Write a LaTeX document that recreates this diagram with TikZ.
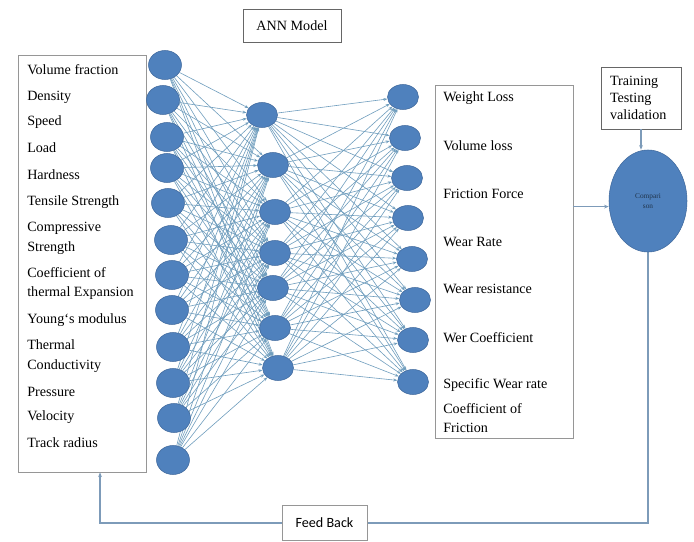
\documentclass[tikz,border=0pt]{standalone}
\usepackage{fontspec}
\setmainfont{Liberation Serif}
\newfontfamily\fbfont{Carlito}
\usetikzlibrary{shapes.geometric,arrows.meta,fit,calc}
\pgfdeclarelayer{bg}
\pgfsetlayers{bg,main}
\definecolor{neuron}{RGB}{79,129,189}
\definecolor{neuronedge}{RGB}{62,104,156}
\definecolor{wirecol}{RGB}{112,158,190}
\definecolor{fbline}{RGB}{125,155,185}
\definecolor{boxline}{RGB}{150,150,150}
\begin{document}
\begin{tikzpicture}[x=0.75pt,y=-0.75pt,
  font=\fontsize{10.6}{13}\selectfont,
  inn/.style={ellipse, fill=neuron, draw=neuronedge, line width=0.4pt,
    minimum width=24.75pt, minimum height=21.75pt, inner sep=0pt},
  hid/.style={inn, minimum width=23.25pt, minimum height=18.75pt},
  wire/.style={draw=wirecol, line width=0.45pt, -{Stealth[length=3pt,width=2.2pt]}},
  frame/.style={draw=boxline, line width=0.6pt, fill=white, inner sep=0pt},
  lbl/.style={anchor=west, inner sep=0pt},
  fb/.style={draw=fbline, line width=0.8pt},
  tip/.style={-{Stealth[length=3.5pt,width=2.8pt]}}]
\useasboundingbox (0,0) rectangle (694,542);

% boxes
\node[frame, fit={(18,55) (146,472)}] (inbox) {};
\node[frame, fit={(435,85) (573,438)}] (outbox) {};
\node[draw=gray!80!black, line width=0.6pt, minimum width=73.5pt, minimum height=24.75pt, inner sep=0pt] (ann) at (292,25.5) {ANN Model};
\node[draw=gray!80!black, line width=0.6pt, text width=46.5pt, align=left, inner xsep=6.75pt, minimum height=46.5pt, inner ysep=0pt] (train) at (641,98) {Training\\Testing\\validation};
\node[draw=boxline, fill=white, line width=0.6pt, minimum width=63.75pt, minimum height=26.25pt, inner sep=0pt, font=\fbfont\fontsize{10.6}{13}\selectfont] (fbbox) at (324.5,523) {Feed Back};

% input labels
\node[lbl] (l1) at (27,70) {Volume fraction};
\node[lbl] (l2) at (27,97) {Density};
\node[lbl] (l3) at (27,122) {Speed};
\node[lbl] (l4) at (27,148) {Load};
\node[lbl] (l5) at (27,175) {Hardness};
\node[lbl] (l6) at (27,202) {Tensile Strength};
\node[lbl] (l7) at (27,228) {Compressive};
\node[lbl] (l7b) at (27,248) {Strength};
\node[lbl] (l8) at (27,273) {Coefficient of};
\node[lbl] (l8b) at (27,293) {thermal Expansion};
\node[lbl] (l9) at (27,320) {Young`s modulus};
\node[lbl] (l10) at (27,345) {Thermal};
\node[lbl] (l10b) at (27,366) {Conductivity};
\node[lbl] (l11) at (27,392) {Pressure};
\node[lbl] (l12) at (27,417) {Velocity};
\node[lbl] (l13) at (27,443) {Track radius};

% output labels
\node[lbl] (o1) at (443,98) {Weight Loss};
\node[lbl] (o2) at (443,146) {Volume loss};
\node[lbl] (o3) at (443,194) {Friction Force};
\node[lbl] (o4) at (443,242) {Wear Rate};
\node[lbl] (o5) at (443,289) {Wear resistance};
\node[lbl] (o6) at (443,338) {Wer Coefficient};
\node[lbl] (o7) at (443,385) {Specific Wear rate};
\node[lbl] (o8) at (443,409) {Coefficient of};
\node[lbl] (o8b) at (443,428) {Friction};

% neurons
\foreach \i/\x/\y in {1/165/65,2/163/100,3/167/137,4/167/168,5/168/203,6/171/240,
  7/172/275,8/172/310,9/173/347,10/173/383,11/174/418,12/173/460}
  \node[inn] (i\i) at (\x,\y) {};
\foreach \j/\x/\y in {1/262/115,2/273/165,3/275/212,4/275/253,5/273/288,6/275/328,7/278/368}
  \node[hid] (h\j) at (\x,\y) {};
\foreach \k/\x/\y in {1/403/97,2/405/138,3/407/178,4/408/218,5/412/259,6/415/300,7/413/340,8/413/382}
  \node[hid] (n\k) at (\x,\y) {};

% comparison ellipse
\node[ellipse, fill=neuron, draw=neuronedge, line width=0.4pt, minimum width=58.5pt, minimum height=76.5pt, inner sep=0pt, align=center, text=black!60!neuron, font=\fontsize{5.5}{7}\selectfont] (cmp) at (648,201) {Compari\\son};

\begin{pgfonlayer}{bg}
\fill[white] (0,0) rectangle (694,542);
\foreach \i in {1,...,12}
  \foreach \j in {1,...,7}
    \draw[wire] (i\i) -- (h\j);
\foreach \j in {1,...,7}
  \foreach \k in {1,...,8}
    \draw[wire] (h\j) -- (n\k);
\draw[fb] (cmp.south) |- (fbbox.east);
\end{pgfonlayer}

% connectors
\coordinate (oc) at ($(outbox.north east)+(0,122)$);
\draw[fb,tip] (oc) -- (oc -| cmp.west);
\draw[fb,tip] (train.south) -- (train.south |- cmp.north);
\coordinate (inb) at ($(inbox.south west)!0.64!(inbox.south east)$);
\draw[fb,tip] (fbbox.west) -| (inb);
\end{tikzpicture}
\end{document}
